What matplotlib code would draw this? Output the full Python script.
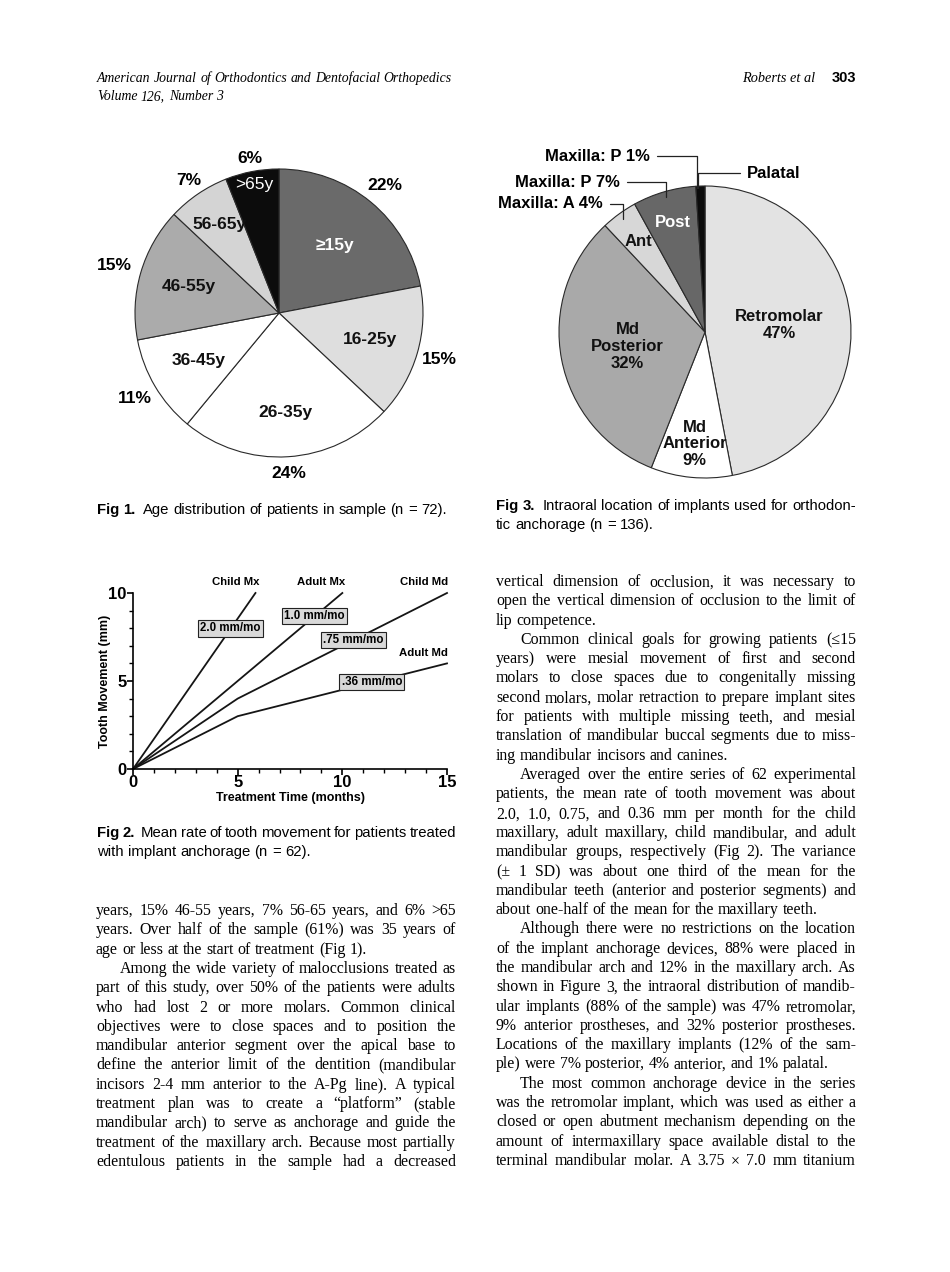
import numpy as np
import matplotlib
matplotlib.use("Agg")
import matplotlib.pyplot as plt
from matplotlib.ticker import MultipleLocator

W, H = 950, 1272
SANS = ["Liberation Sans", "DejaVu Sans"]
SERIF = ["Liberation Serif", "DejaVu Serif"]

# Fig 1 - age distribution (n = 72), clockwise from 12 o'clock
age_groups = ["≥15y", "16-25y", "26-35y", "36-45y", "46-55y", "56-65y", ">65y"]
age_share = [22, 15, 24, 11, 15, 7, 6]

# Fig 3 - intraoral location of implants (n = 136)
site_names = ["Retromolar\n47%", "Md\nAnterior\n9%", "Md\nPosterior\n32%", "Ant", "Post", ""]
site_share = [47, 9, 32, 4, 7, 1]
maxilla_tags = ["Maxilla: A 4%", "Maxilla: P 7%", "Maxilla: P 1%"]

# Fig 2 - mean tooth movement
series_names = ["Child Mx", "Adult Mx", "Child Md", "Adult Md"]
series_rates = ["2.0 mm/mo", "1.0 mm/mo", ".75 mm/mo", ".36 mm/mo"]
series_months = [[0, 5.85], [0, 5, 10], [0, 5, 15], [0, 5, 15]]
series_mm = [[0, 10], [0, 5, 10], [0, 4, 10], [0, 3, 6]]

left_column = [
    ["years, 15% 46-55 years, 7% 56-65 years, and 6% >65",
     "years. Over half of the sample (61%) was 35 years of",
     "age or less at the start of treatment (Fig 1)."],
    ["Among the wide variety of malocclusions treated as",
     "part of this study, over 50% of the patients were adults",
     "who had lost 2 or more molars. Common clinical",
     "objectives were to close spaces and to position the",
     "mandibular anterior segment over the apical base to",
     "define the anterior limit of the dentition (mandibular",
     "incisors 2-4 mm anterior to the A-Pg line). A typical",
     "treatment plan was to create a \u201cplatform\u201d (stable",
     "mandibular arch) to serve as anchorage and guide the",
     "treatment of the maxillary arch. Because most partially",
     "edentulous patients in the sample had a decreased"],
]
right_column = [
    ["vertical dimension of occlusion, it was necessary to",
     "open the vertical dimension of occlusion to the limit of",
     "lip competence."],
    ["Common clinical goals for growing patients (\u226415",
     "years) were mesial movement of first and second",
     "molars to close spaces due to congenitally missing",
     "second molars, molar retraction to prepare implant sites",
     "for patients with multiple missing teeth, and mesial",
     "translation of mandibular buccal segments due to miss-",
     "ing mandibular incisors and canines."],
    ["Averaged over the entire series of 62 experimental",
     "patients, the mean rate of tooth movement was about",
     "2.0, 1.0, 0.75, and 0.36 mm per month for the child",
     "maxillary, adult maxillary, child mandibular, and adult",
     "mandibular groups, respectively (Fig 2). The variance",
     "(\u00b1 1 SD) was about one third of the mean for the",
     "mandibular teeth (anterior and posterior segments) and",
     "about one-half of the mean for the maxillary teeth."],
    ["Although there were no restrictions on the location",
     "of the implant anchorage devices, 88% were placed in",
     "the mandibular arch and 12% in the maxillary arch. As",
     "shown in Figure 3, the intraoral distribution of mandib-",
     "ular implants (88% of the sample) was 47% retromolar,",
     "9% anterior prostheses, and 32% posterior prostheses.",
     "Locations of the maxillary implants (12% of the sam-",
     "ple) were 7% posterior, 4% anterior, and 1% palatal."],
    ["The most common anchorage device in the series",
     "was the retromolar implant, which was used as either a",
     "closed or open abutment mechanism depending on the",
     "amount of intermaxillary space available distal to the",
     "terminal mandibular molar. A 3.75 \u00d7 7.0 mm titanium"],
]

fig = plt.figure(figsize=(W / 100, H / 100), dpi=100)
renderer = fig.canvas.get_renderer()


def px_axes(x0, y0, w, h):
    return fig.add_axes([x0 / W, 1 - (y0 + h) / H, w / W, h / H])


def text_width(s, size, family, weight="normal", style="normal"):
    t = fig.text(0, 0, s, fontsize=size, family=family, fontweight=weight, fontstyle=style)
    w = t.get_window_extent(renderer).width
    t.remove()
    return w


def put_words(x0, y, text, size, family, width=None, bold=0, style="normal", lead=0):
    words = text.split(" ")
    y = round(y) + 0.25
    arts = []
    for i, wd in enumerate(words):
        arts.append(fig.text(0, 0, wd, fontsize=size, family=family, fontstyle=style,
                             fontweight="bold" if i < bold else "normal", va="baseline"))
    widths = [a.get_window_extent(renderer).width for a in arts]
    gap = text_width("n n", size, family, style=style) - text_width("nn", size, family, style=style)
    if width is not None and len(arts) > 1:
        gap = (width - sum(widths) - lead) / (len(arts) - 1)
    x = x0
    for i, (a, w) in enumerate(zip(arts, widths)):
        a.set_position((x / W, 1 - y / H))
        x += w + gap
        if i == bold - 1:
            x += lead


# ---------------- page header ----------------
HEAD = 9.9
put_words(97, 82, "American Journal of Orthodontics and Dentofacial Orthopedics", HEAD, SERIF, style="italic")
put_words(97, 100, "Volume 126, Number 3", HEAD, SERIF, style="italic")
fig.text(815 / W, 1 - 82 / H, "Roberts et al", fontsize=HEAD + 0.4, family=SERIF, fontstyle="italic",
         ha="right", va="baseline")
fig.text(856 / W, 1 - 82 / H, "303", fontsize=10.5, family=SANS, fontweight="bold",
         ha="right", va="baseline")

# ---------------- Fig 1 pie ----------------
PAD = 1.4
cx, cy, r = 279, 313, 144
ax1 = px_axes(cx - r * PAD, cy - r * PAD, 2 * r * PAD, 2 * r * PAD)
age_colors = ["#6a6a6a", "#dedede", "#ffffff", "#ffffff", "#ababab", "#d4d4d4", "#0c0c0c"]
age_inner_r = [0.61, 0.66, 0.69, 0.65, 0.655, 0.74, 0.91]
age_outer_r = [1.15, 1.16, 1.12, 1.16, 1.19, 1.11, 1.09]
age_txt = ["white", "#111", "#111", "#111", "#111", "#111", "white"]
wedges, _ = ax1.pie(age_share, colors=age_colors, startangle=90, counterclock=False,
                    wedgeprops=dict(edgecolor="#2a2a2a", linewidth=0.8))
for w, name, pct, ri, ro, tc in zip(wedges, age_groups, age_share, age_inner_r, age_outer_r, age_txt):
    a = np.deg2rad((w.theta1 + w.theta2) / 2)
    ax1.text(ri * np.cos(a), ri * np.sin(a), name, ha="center", va="center", color=tc,
             fontsize=12.5, family=SANS, fontweight="normal" if name == ">65y" else "bold")
    ax1.text(ro * np.cos(a), ro * np.sin(a), f"{pct}%", ha="center", va="center",
             fontsize=12.5, family=SANS, fontweight="bold")
ax1.set_xlim(-PAD, PAD)
ax1.set_ylim(-PAD, PAD)
ax1.axis("off")

# ---------------- Fig 3 pie ----------------
cx, cy, r = 705, 332, 146
ax3 = px_axes(cx - r * PAD, cy - r * PAD, 2 * r * PAD, 2 * r * PAD)
site_colors = ["#e3e3e3", "#ffffff", "#a9a9a9", "#d7d7d7", "#676767", "#0c0c0c"]
site_r = [0.51, 0.77, 0.54, 0.77, 0.78, 0]
site_txt = ["#111", "#111", "#111", "#111", "white", "white"]
wedges, _ = ax3.pie(site_share, colors=site_colors, startangle=90, counterclock=False,
                    wedgeprops=dict(edgecolor="#2a2a2a", linewidth=0.8))
for w, name, ri, tc in zip(wedges, site_names, site_r, site_txt):
    a = np.deg2rad((w.theta1 + w.theta2) / 2)
    ax3.text(ri * np.cos(a), ri * np.sin(a), name, ha="center", va="center", color=tc,
             fontsize=12, family=SANS, fontweight="bold", linespacing=1.15)

# leader labels for the maxillary slices
tag_pos = [(-0.70, 0.877), (-0.582, 1.027), (-0.377, 1.205)]
tag_frac = [0.5, 0.5, 0.15]
for tag, wi, pos, fr in zip(maxilla_tags, [3, 4, 5], tag_pos, tag_frac):
    w = wedges[wi]
    a = np.deg2rad(w.theta1 + (w.theta2 - w.theta1) * (1 - fr))
    rr = 0.99 if wi == 5 else 0.96
    ax3.annotate(tag, xy=(rr * np.cos(a), rr * np.sin(a)), xytext=pos, ha="right", va="center",
                 fontsize=12, family=SANS, fontweight="bold",
                 arrowprops=dict(arrowstyle="-", lw=0.9, color="#222", shrinkA=3, shrinkB=0,
                                 connectionstyle="angle,angleA=0,angleB=90,rad=0"))
w = wedges[5]
a = np.deg2rad(w.theta1 + (w.theta2 - w.theta1) * 0.75)
ax3.annotate("Palatal", xy=(0.99 * np.cos(a), 0.99 * np.sin(a)), xytext=(0.288, 1.089),
             ha="left", va="center", fontsize=12, family=SANS, fontweight="bold",
             arrowprops=dict(arrowstyle="-", lw=0.9, color="#222", shrinkA=3, shrinkB=0,
                             connectionstyle="angle,angleA=0,angleB=90,rad=0"))
ax3.set_xlim(-PAD, PAD)
ax3.set_ylim(-PAD, PAD)
ax3.axis("off")

# ---------------- Fig 2 line chart ----------------
ax2 = px_axes(133, 593, 314, 176)
name_pos = [(4.9, 10.35, "center"), (9.0, 10.35, "center"), (15.05, 10.35, "right"), (15.05, 6.3, "right")]
rate_pos = [(4.65, 8.0), (8.68, 8.7), (10.54, 7.33), (11.41, 4.95)]
for xs, ys, nm, rt, npos, rpos in zip(series_months, series_mm, series_names, series_rates, name_pos, rate_pos):
    ax2.plot(xs, ys, color="#151515", lw=1.3, solid_joinstyle="miter", clip_on=False)
    ax2.text(npos[0], npos[1], nm, ha=npos[2], va="bottom", fontsize=8.2, family=SANS,
             fontweight="bold", clip_on=False)
    ax2.text(rpos[0], rpos[1], rt, ha="center", va="center", fontsize=8.3, family=SANS,
             fontweight="bold",
             bbox=dict(boxstyle="square,pad=0.2", facecolor="#d9d9d9", edgecolor="#222", lw=0.8))
ax2.set_xlim(0, 15)
ax2.set_ylim(0, 10)
ax2.spines[["top", "right"]].set_visible(False)
for s in ["left", "bottom"]:
    ax2.spines[s].set_linewidth(1.2)
xt = [0, 5, 10, 15]
yt = [0, 5, 10]
ax2.set_xticks(xt, labels=[str(v) for v in xt], fontweight="bold", family=SANS)
ax2.set_yticks(yt, labels=[str(v) for v in yt], fontweight="bold", family=SANS)
ax2.xaxis.set_minor_locator(MultipleLocator(1))
ax2.yaxis.set_minor_locator(MultipleLocator(1))
ax2.tick_params(which="major", length=4.5, width=1.2, labelsize=12, pad=0)
ax2.tick_params(which="minor", length=3, width=1.0)
ax2.set_xlabel("Treatment Time (months)", fontsize=9, family=SANS, fontweight="bold")
ax2.set_ylabel("Tooth Movement (mm)", fontsize=9, family=SANS, fontweight="bold")
ax2.xaxis.set_label_coords(0.5, -0.13)
ax2.yaxis.set_label_coords(-0.07, 0.5)

# ---------------- captions ----------------
cap1 = "Fig 1. Age distribution of patients in sample (n = 72)."
CAP = 10 * 352 / (text_width("Fig 1.", 10, SANS, "bold") + text_width(cap1[7:], 10, SANS) + 8)
put_words(97, 514, cap1, CAP, SANS, bold=2, lead=3)
put_words(496, 510, "Fig 3. Intraoral location of implants used for orthodon-", CAP, SANS,
          width=360, bold=2, lead=3)
put_words(496, 529, "tic anchorage (n = 136).", CAP, SANS)
put_words(97, 837, "Fig 2. Mean rate of tooth movement for patients treated", CAP, SANS,
          width=359, bold=2, lead=3)
put_words(97, 856, "with implant anchorage (n = 62).", CAP, SANS)

# ---------------- body text ----------------
# size chosen so the tightest justified line just fills the 360 px column
tight = max(text_width(line, 10, SERIF) + (24 if (li == 0 and pi > 0) else 0)
            for col in (left_column, right_column)
            for pi, para in enumerate(col)
            for li, line in enumerate(para)
            if not (li == len(para) - 1 and pi < len(col) - 1))
BODY = 10 * 358 / tight
LEAD = 19.3
for col, x0, y0 in [(left_column, 96, 915), (right_column, 496, 586)]:
    k = 0
    for pi, para in enumerate(col):
        for li, line in enumerate(para):
            indent = 24 if (li == 0 and pi > 0) else 0
            ragged = li == len(para) - 1 and pi < len(col) - 1
            put_words(x0 + indent, y0 + k * LEAD, line, BODY, SERIF,
                      width=None if ragged else 360 - indent)
            k += 1

fig.savefig("out.png", dpi=100)
